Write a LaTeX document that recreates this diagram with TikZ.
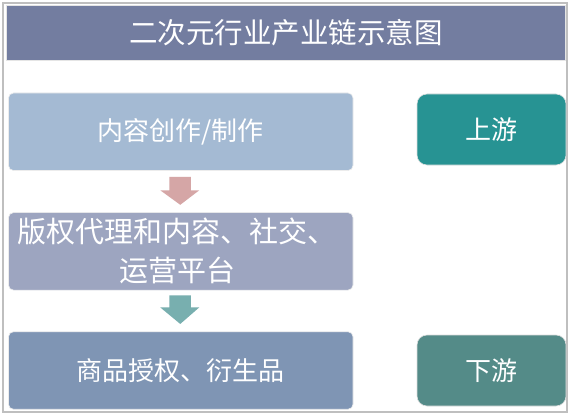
\documentclass[tikz,border=0pt]{standalone}
\usepackage{fontspec}
\setmainfont{Noto Sans CJK SC}
\usetikzlibrary{calc}
\definecolor{titlebg}{HTML}{737DA0}
\definecolor{boxA}{HTML}{A4BAD3}
\definecolor{boxB}{HTML}{9DA5C0}
\definecolor{boxC}{HTML}{7F95B4}
\definecolor{upc}{HTML}{279393}
\definecolor{downc}{HTML}{548B88}
\definecolor{arrA}{HTML}{D5A6A6}
\definecolor{arrB}{HTML}{78AFAF}
\definecolor{frame}{HTML}{BFBFBF}
\begin{document}
\begin{tikzpicture}[x=1pt,y=-1pt,
  stagebox/.style={rectangle, rounded corners=5pt, inner sep=0pt,
    minimum width=344.5pt, minimum height=77.5pt, draw=white!85!gray, line width=0.6pt,
    text=white, font=\fontsize{26}{30}\selectfont},
  tagbox/.style={rectangle, rounded corners=10pt, inner sep=0pt,
    minimum width=149pt, minimum height=71pt, draw=white!75!gray, line width=0.6pt,
    text=white, font=\fontsize{26}{30}\selectfont},
  blockarrow/.style={draw=none}]
\useasboundingbox (0,0) rectangle (572,417);
\fill[white] (0,0) rectangle (572,417);
% outer frame
\draw[frame, line width=1.5pt] (3,3) rectangle (567,412);
% title
\node[rectangle, fill=titlebg, draw=white!80!gray, line width=0.6pt, inner sep=0pt,
  minimum width=558.5pt, minimum height=55pt, text=white,
  font=\fontsize{28.5}{32}\selectfont] (title) at (285.75,32.5) {二次元行业产业链示意图};
% stages
\node[stagebox, fill=boxA] (s1) at (180.75,131.75) {内容创作/制作};
\node[stagebox, fill=boxB] (s2) at (180.75,251.35) {};
\node[text=white, align=center, inner sep=0pt, font=\fontsize{29}{39}\selectfont]
  (s2t) at (177,251) {版权代理和内容、社交、\\运营平台};
\node[stagebox, fill=boxC] (s3) at (180.75,370.5) {商品授权、衍生品};
% tags
\node[tagbox, fill=upc] (up) at (491.5,129.5) {上游};
\node[tagbox, fill=downc] (down) at (491.5,370.5) {下游};
% block arrows
\fill[arrA] ($(s1.south)+(-11.5,6)$) -- ($(s1.south)+(10,6)$) -- ($(s1.south)+(10,19.5)$)
  -- ($(s1.south)+(18.5,19.5)$) -- ($(s2.north)+(-0.5,-7.5)$) -- ($(s1.south)+(-20.5,19.5)$)
  -- ($(s1.south)+(-11.5,19.5)$) -- cycle;
\fill[arrB] ($(s2.south)+(-11.5,5)$) -- ($(s2.south)+(10,5)$) -- ($(s2.south)+(10,17)$)
  -- ($(s2.south)+(18.5,17)$) -- ($(s3.north)+(-0.5,-7.5)$) -- ($(s2.south)+(-20.5,17)$)
  -- ($(s2.south)+(-11.5,17)$) -- cycle;
\end{tikzpicture}
\end{document}
